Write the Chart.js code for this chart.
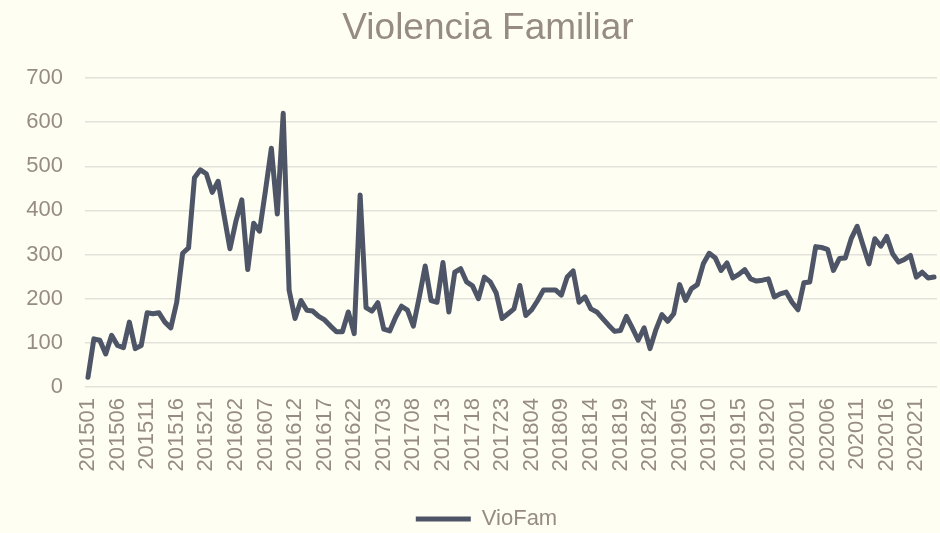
<!DOCTYPE html>
<html>
<head>
<meta charset="utf-8">
<script src="https://cdn.jsdelivr.net/npm/chart.js@4"></script>
<style>
  body { margin: 0; background: #FEFEF3; }
  #wrap { width: 940px; height: 533px; }
</style>
</head>
<body>
<div id="wrap"><canvas id="cs" width="940" height="533"></canvas></div>
<script>
// periods: year + fortnight number (24 per year), 2015-01 .. 2020-24
var years = ["2015", "2016", "2017", "2018", "2019", "2020"];
var labels = [];
years.forEach(function (y) {
  for (var p = 1; p <= 24; p++) labels.push(y + (p < 10 ? "0" + p : "" + p));
});

var vioFam = [
  22, 109, 106, 75, 117, 94, 89, 147, 87, 94,
  168, 166, 168, 147, 134, 192, 303, 315, 474, 492,
  483, 441, 466, 389, 313, 375, 424, 266, 371, 353,
  445, 541, 392, 620, 219, 155, 196, 174, 172, 160,
  152, 138, 125, 125, 170, 121, 435, 180, 172, 191,
  131, 127, 158, 183, 174, 138, 204, 274, 196, 192,
  282, 170, 260, 268, 238, 229, 200, 249, 238, 213,
  155, 166, 177, 230, 162, 175, 196, 220, 220, 220,
  208, 249, 263, 192, 204, 177, 170, 155, 140, 126,
  128, 160, 134, 106, 134, 87, 130, 164, 149, 166,
  232, 196, 223, 232, 279, 303, 293, 264, 281, 247,
  255, 266, 245, 240, 242, 245, 204, 211, 215, 192,
  175, 236, 238, 318, 316, 312, 264, 291, 292, 336,
  364, 321, 279, 336, 319, 341, 302, 283, 289, 298,
  249, 260, 247, 249
];

var yTicks = [0, 100, 200, 300, 400, 500, 600, 700];

var textColor = "#968C83";
var lineColor = "#4E5566";

var titlePlugin = {
  id: "titleText",
  afterLayout: function (chart) {
    // legend sits a bit right of the canvas centre in the original
    var lg = chart.legend;
    if (lg) { lg.left += 18; lg.right += 18; }
  },
  afterDraw: function (chart) {
    var c = chart.ctx;
    c.save();
    c.fillStyle = textColor;
    c.font = "37px 'Liberation Sans', Arial, sans-serif";
    c.textAlign = "center";
    c.textBaseline = "alphabetic";
    c.fillText("Violencia Familiar", 488, 39);
    c.restore();
  }
};

Chart.defaults.font.family = "'Liberation Sans', Arial, sans-serif";
Chart.defaults.color = textColor;

new Chart(document.getElementById("cs"), {
  type: "line",
  data: {
    labels: labels,
    datasets: [{
      label: "VioFam",
      data: vioFam,
      borderColor: lineColor,
      backgroundColor: lineColor,
      borderWidth: 5,
      pointRadius: 0,
      tension: 0,
      borderJoinStyle: "round",
      borderCapStyle: "round"
    }]
  },
  options: {
    responsive: false,
    animation: false,
    layout: { padding: { top: 78, right: 3, bottom: 0, left: 0 } },
    scales: {
      x: {
        offset: true,
        grid: { display: false },
        border: { display: false },
        afterFit: function (s) {
          s.height = 117;
          s.paddingLeft = 0;
          s.paddingRight = 0;
        },
        ticks: {
          autoSkip: false,
          minRotation: 90,
          maxRotation: 90,
          padding: 3,
          font: { size: 22 },
          callback: function (v, i) { return i % 5 === 0 ? labels[i] : ""; }
        }
      },
      y: {
        min: 0,
        max: 700,
        afterFit: function (s) { s.width = 85; },
        afterBuildTicks: function (s) { s.ticks = yTicks.map(function (v) { return { value: v }; }); },
        grid: { color: "#E3E1DC", lineWidth: 1.4, drawTicks: false },
        border: { display: false },
        ticks: { padding: 22, font: { size: 22 } }
      }
    },
    plugins: {
      legend: {
        position: "bottom",
        maxHeight: 29,
        labels: {
          usePointStyle: true,
          pointStyle: "line",
          pointStyleWidth: 55,
          padding: 4,
          font: { size: 22 },
          color: textColor
        }
      },
      tooltip: { enabled: false }
    }
  },
  plugins: [titlePlugin]
});
</script>
</body>
</html>
